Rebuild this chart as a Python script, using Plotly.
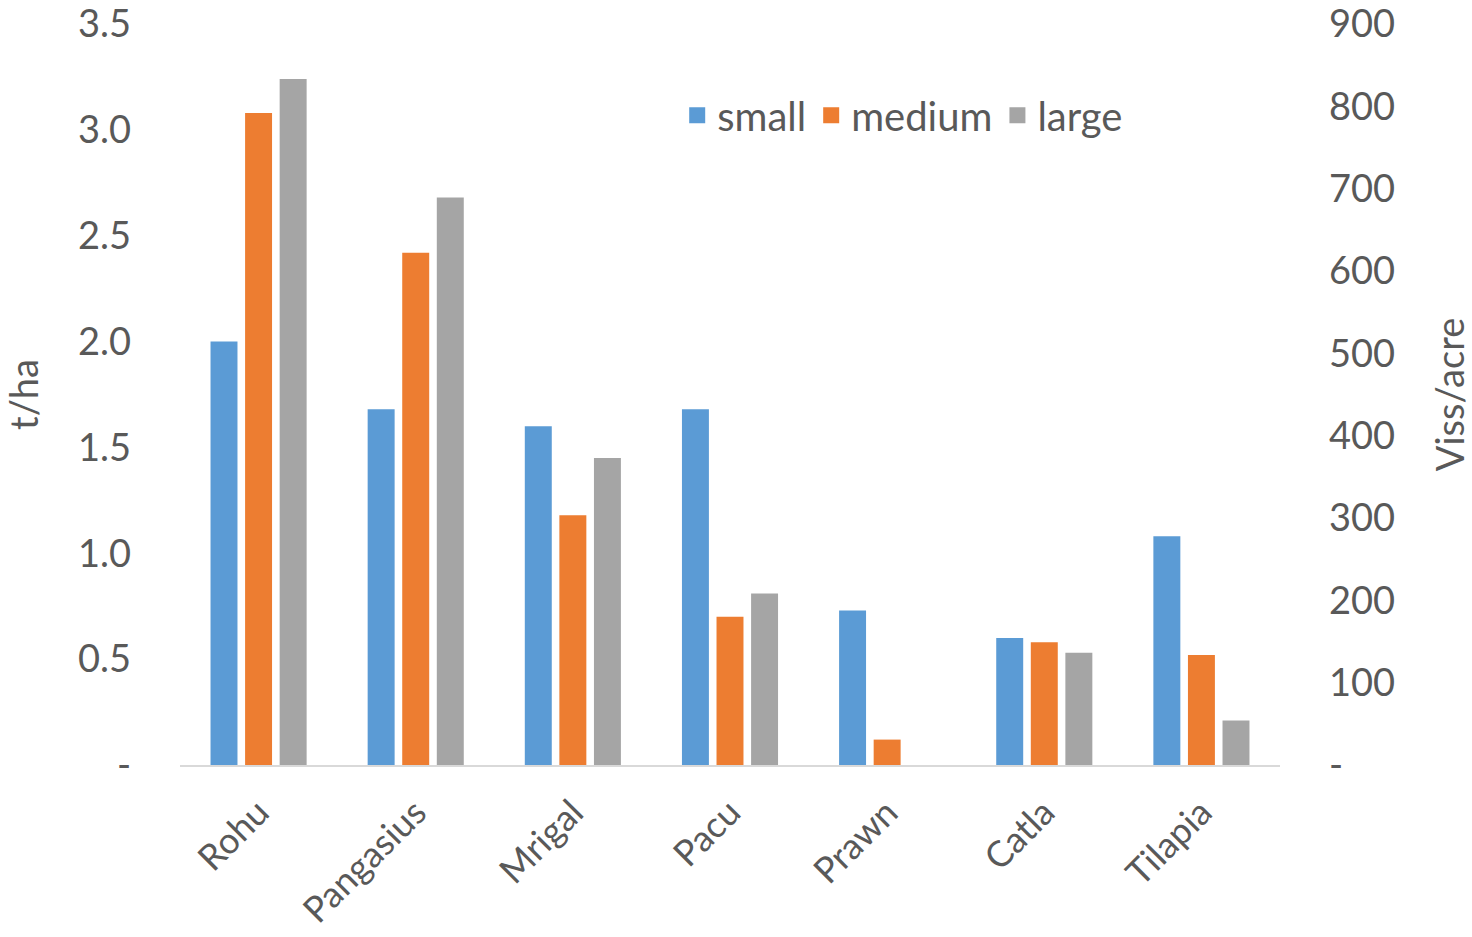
import plotly.graph_objects as go

species = ["Rohu", "Pangasius", "Mrigal", "Pacu", "Prawn", "Catla", "Tilapia"]
small = [2.00, 1.68, 1.60, 1.68, 0.73, 0.60, 1.08]
medium = [3.08, 2.42, 1.18, 0.70, 0.12, 0.58, 0.52]
large = [3.24, 2.68, 1.45, 0.81, 0.00, 0.53, 0.21]

left_ticks = [0, 0.5, 1.0, 1.5, 2.0, 2.5, 3.0, 3.5]
left_labels = ["-", "0.5", "1.0", "1.5", "2.0", "2.5", "3.0", "3.5"]
right_ticks = [0, 100, 200, 300, 400, 500, 600, 700, 800, 900]
right_labels = ["-", "100", "200", "300", "400", "500", "600", "700", "800", "900"]

colors = {"small": "#5B9BD5", "medium": "#ED7D31", "large": "#A5A5A5"}
font_family = "Lato, 'Open Sans', sans-serif"
text_color = "#595959"
fs = 38

fig = go.Figure()
for name, vals in [("small", small), ("medium", medium), ("large", large)]:
    fig.add_trace(go.Bar(x=species, y=vals, name=name, showlegend=False,
                         marker=dict(color=colors[name], line=dict(width=0))))

# legend entries with square swatches
for name in ["small", "medium", "large"]:
    fig.add_trace(go.Scatter(x=[None], y=[None], name=name, mode="markers",
                             marker=dict(symbol="square", size=22, color=colors[name]),
                             hoverinfo="skip"))

# secondary axis carrier (no visible marks)
fig.add_trace(go.Scatter(x=species, y=[None] * len(species), yaxis="y2",
                         showlegend=False, hoverinfo="skip", mode="markers"))

fig.update_layout(
    width=1472, height=937,
    margin=dict(l=180, r=192, t=24, b=172),
    paper_bgcolor="white", plot_bgcolor="white",
    barmode="group", bargap=0.34, bargroupgap=0.22,
    font=dict(family=font_family, color=text_color, size=fs),
    legend=dict(orientation="h", x=0.452, y=0.877, xanchor="left", yanchor="middle",
                font=dict(size=40, color=text_color), itemwidth=30,
                bgcolor="rgba(0,0,0,0)"),
    xaxis=dict(tickangle=-45, tickfont=dict(size=36, color=text_color),
               showline=True, linecolor="#D9D9D9", linewidth=2, automargin=False,
               showgrid=False, ticks="", zeroline=False, ticklabelstandoff=10),
    yaxis=dict(range=[0, 3.5], tickvals=left_ticks, ticktext=left_labels,
               showgrid=False, zeroline=False, showline=False, automargin=False,
               ticklabelstandoff=48, ticklabeloverflow="allow",
               title=dict(text="t/ha", font=dict(size=fs, color=text_color), standoff=34),
               tickfont=dict(size=fs, color=text_color)),
    yaxis2=dict(range=[0, 900], tickvals=right_ticks, ticktext=right_labels,
                overlaying="y", side="right", showgrid=False, zeroline=False,
                showline=False, automargin=False, ticklabelstandoff=48,
                ticklabeloverflow="allow",
                title=dict(text="Viss/acre", font=dict(size=fs, color=text_color), standoff=48),
                tickfont=dict(size=fs, color=text_color)),
)

fig.write_html("out.html")
